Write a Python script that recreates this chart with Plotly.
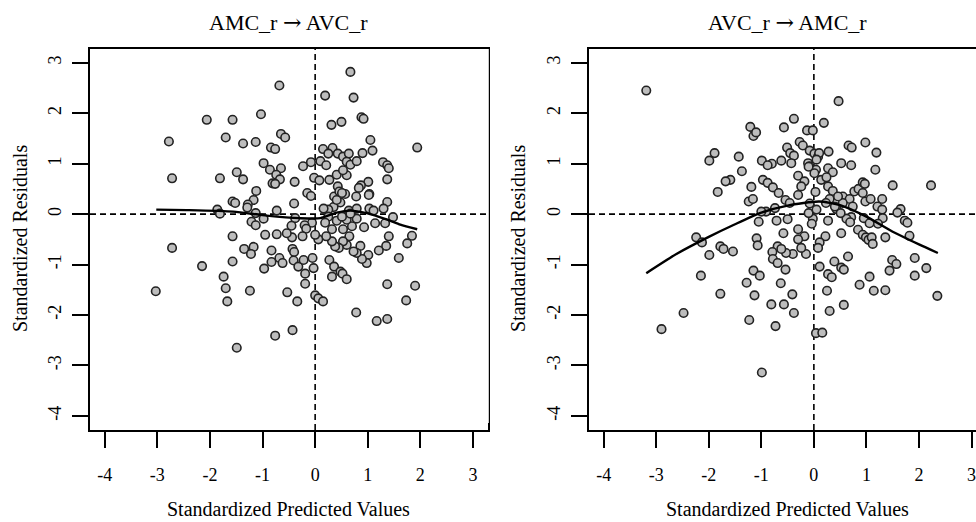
import plotly.graph_objects as go

# ---------------- data ----------------
# Left panel: AMC_r -> AVC_r
left_x = [0.67, -0.68, 0.19, 0.73, -2.06, -1.57, -1.03, 0.88, 0.92, 0.50, 0.31,
          -2.78, -1.70, -1.37, -1.13, -0.65, -0.57, -0.84, -0.76, 1.05, 1.94,
          0.15, 0.33, 0.25, 0.43, 0.53, 0.64, 0.90, 1.09, 0.60, 0.67, 0.79,
          1.29, 1.37, 1.40, 0.10, 0.21, -0.08, -0.23, -0.98, -0.86, -0.65, -0.74,
          -1.49, -2.72, -1.81, -1.37, -0.67, -0.81, -0.76, -0.39, -0.02, 0.08,
          0.27, 0.41, 0.60, 0.53, 1.37, 1.01, 0.87, 0.83, 0.43, -1.12, -0.15,
          -0.08, 0.36, 0.46, 0.57, 0.78, 1.03, -1.17, -1.28, -1.57, -1.52, -0.40,
          0.48, 1.37, 0.35, 0.25, 0.16, 0.64, 0.79, 1.03, 1.11, 1.30, -1.86,
          -1.81, -0.73, -1.13, 1.48, 1.33, 1.14, 0.79, 0.41, 0.25, 0.19, -0.06,
          -0.38, -0.98, -1.21, -1.13, -0.45, -0.20, -0.17, 0.53, 0.32, 0.70,
          0.93, 0.60, 1.84, 1.75, 1.40, 1.35, 1.21, 1.01, 0.98, 0.89, 0.86,
          0.79, 0.73, 0.65, 0.60, 0.53, 0.45, 0.38, 0.32, 0.21, 0.06, 0.00,
          -0.24, -0.44, -0.54, -0.73, -0.95, -1.57, -1.35, -1.17, -1.22, -0.83,
          -0.43, -0.40, -0.68, -0.62, -0.83, -1.57, -0.97, -0.41, -0.32, -0.22,
          -0.05, -0.03, -0.19, -0.19, 0.27, 0.36, 0.48, 0.52, 0.32, 0.60, -2.15,
          -1.74, -1.70, -1.67, -1.24, -3.03, -0.53, -0.34, 0.00, 0.06, 0.15,
          0.78, 1.17, 1.37, 1.37, 1.90, 1.73, 1.59, -0.43, -0.76, -1.49, -2.72,
          0.41, 0.67, 0.51, 0.51, -1.29, 1.02]
left_y = [2.82, 2.55, 2.35, 2.31, 1.87, 1.87, 1.98, 1.92, 1.89, 1.83, 1.77,
          1.44, 1.52, 1.40, 1.43, 1.59, 1.52, 1.32, 1.29, 1.47, 1.32,
          1.29, 1.31, 1.20, 1.20, 1.14, 1.20, 1.21, 1.26, 1.04, 0.98, 1.05,
          1.03, 0.97, 0.91, 1.05, 0.97, 1.03, 0.95, 1.01, 0.88, 0.91, 0.78,
          0.83, 0.71, 0.71, 0.69, 0.69, 0.61, 0.60, 0.64, 0.72, 0.67,
          0.68, 0.78, 0.77, 0.87, 0.69, 0.64, 0.57, 0.52, 0.55, 0.46, 0.42,
          0.36, 0.35, 0.45, 0.40, 0.35, 0.40, 0.28, 0.19, 0.25, 0.22, 0.21,
          0.23, 0.24, 0.14, 0.09, 0.11, 0.07, 0.11, 0.11, 0.07, 0.11, 0.09,
          0.01, 0.07, 0.02, -0.06, -0.18, -0.18, -0.09, -0.13, -0.05, -0.17, -0.17,
          -0.08, -0.09, -0.15, -0.22, -0.23, -0.22, -0.29, -0.30, -0.30, -0.24,
          -0.26, -0.11, -0.43, -0.58, -0.44, -0.63, -0.72, -0.81, -0.97, -0.89, -0.63,
          -0.77, -0.74, -0.44, -0.61, -0.54, -0.67, -0.64, -0.54, -0.44, -0.50, -0.41,
          -0.44, -0.46, -0.38, -0.40, -0.41, -0.44, -0.69, -0.65, -0.79, -0.72,
          -0.69, -0.75, -0.87, -0.97, -0.95, -0.94, -1.08, -0.92, -1.04, -0.91,
          -0.87, -1.07, -1.18, -1.38, -0.91, -1.04, -1.14, -1.18, -1.24, -1.29, -1.03,
          -1.24, -1.47, -1.73, -1.52, -1.53, -1.55, -1.73, -1.61, -1.67, -1.73,
          -1.95, -2.12, -2.08, -1.39, -1.42, -1.71, -0.87, -2.30, -2.41, -2.65, -0.67,
          0.28, 0.01, -0.05, 0.42, 0.13, 0.38]

left_fit_x = [-3.02, -2.44, -1.56, -0.92, -0.29, 0.10, 0.41, 0.67, 0.98, 1.37, 1.62, 1.94]
left_fit_y = [0.09, 0.08, 0.05, -0.03, -0.08, -0.08, 0.03, 0.07, 0.02, -0.11, -0.21, -0.30]

# Right panel: AVC_r -> AMC_r
right_x = [-3.19, 0.47, -0.38, 0.19, -1.21, -1.15, -1.10, -0.57, -0.13, -0.02,
           -0.27, -0.21, 0.98, 0.66, 0.72, -1.89, -1.99, -1.43, -1.37, -0.51,
           -0.45, -0.38, -0.62, -0.43, -0.99, -0.80, -0.88, -0.08, 0.01, 0.08,
           0.10, -0.11, -0.08, 0.04, 0.01, 0.28, 0.27, 0.36, 0.52, 0.71,
           1.19, 1.17, 0.14, -0.30, -0.18, -0.24, -0.30, -1.59, -1.68, -1.83,
           -1.19, -0.97, -0.88, -0.78, -0.67, -1.24, -1.16, -0.54, -0.46, 0.03,
           -0.08, 0.27, 0.36, 0.55, 0.68, 0.30, 0.23, 0.43, 0.55, 0.74,
           0.77, 0.85, 0.93, 0.97, 0.93, 0.98, 1.08, 1.50, 2.23, 1.30,
           1.21, 1.30, 1.65, 1.59, 1.31, 1.73, 1.78, 1.82, 1.36, 0.95,
           1.06, 1.22, 0.84, 0.93, 0.99, 1.04, 1.10, 1.12, 0.71, 0.62,
           0.69, 0.51, 0.52, 0.27, 0.22, 0.11, 0.08, -0.02, -0.04, -0.10,
           -0.18, -0.15, -0.24, -0.30, -0.30, -0.40, -0.53, -0.50, -0.58, -0.71,
           -0.74, -0.91, -1.00, -1.05, -1.09, -1.07, -0.69, -0.62, -0.79, -0.78,
           -0.69, -0.54, -0.63, -1.15, -1.03, -1.28, -1.13, -1.23, -0.81, -0.73,
           -0.57, -0.41, -0.38, -0.99, -2.24, -2.13, -1.99, -1.78, -1.72, -1.54,
           -2.15, -1.78, -2.48, -2.90, 0.04, 0.16, 0.11, 0.27, 0.34, 0.39,
           0.52, 0.57, 0.65, 0.25, 0.30, 0.57, 0.87, 1.06, 1.14, 1.36,
           1.44, 1.49, 1.57, 1.92, 1.92, 2.14, 2.35, 0.05, -0.10, 0.24,
           0.46, 0.40, 0.05]
right_y = [2.45, 2.24, 1.89, 1.81, 1.73, 1.55, 1.62, 1.72, 1.66, 1.66,
           1.43, 1.36, 1.42, 1.36, 1.32, 1.21, 1.06, 1.14, 0.85, 1.32,
           1.21, 1.16, 1.06, 1.01, 1.06, 1.00, 0.97, 1.26, 1.20, 1.14,
           1.21, 1.01, 0.95, 0.88, 0.81, 1.24, 0.91, 0.83, 1.01, 0.97,
           1.22, 0.88, 0.68, 0.76, 0.65, 0.55, 0.38, 0.68, 0.65, 0.44,
           0.54, 0.68, 0.62, 0.53, 0.42, 0.25, 0.30, 0.28, 0.22, 0.44,
           0.21, 0.55, 0.46, 0.35, 0.30, 0.30, 0.22, 0.10, 0.22, 0.15,
           0.45, 0.50, 0.63, 0.60, 0.42, 0.25, 0.30, 0.57, 0.57, 0.30,
           0.15, 0.09, 0.10, 0.03, -0.08, -0.13, -0.17, -0.43, -0.46, -0.08,
           -0.18, -0.19, -0.31, -0.41, -0.46, -0.51, -0.46, -0.59, -0.06, -0.09,
           -0.16, 0.02, -0.38, -0.13, -0.44, -0.56, -0.67, -0.09, -0.19, 0.02,
           -0.44, -0.79, -0.67, -0.50, -0.30, -0.79, -0.77, -0.10, -0.38, -0.13,
           0.12, 0.05, 0.05, -0.15, -0.48, -0.62, -0.64, -0.69, -0.75, -0.89,
           -0.97, -1.10, -1.37, -1.12, -1.22, -1.36, -1.61, -2.10, -1.79, -2.22,
           -1.79, -1.59, -1.96, -3.14, -0.46, -0.56, -0.81, -0.64, -0.69, -0.74,
           -1.22, -1.58, -1.96, -2.28, -2.36, -2.35, -1.04, -1.19, -1.25, -0.94,
           -1.06, -1.10, -0.84, -1.52, -1.92, -1.80, -1.40, -1.24, -1.52, -1.51,
           -1.12, -0.91, -0.99, -0.87, -1.22, -1.07, -1.62, 1.08, 0.94, 0.73,
           0.35, 0.15, 0.09]

right_fit_x = [-3.19, -2.6, -2.0, -1.5, -1.0, -0.5, 0.1, 0.5, 1.0, 1.5, 2.0, 2.36]
right_fit_y = [-1.17, -0.78, -0.45, -0.20, 0.03, 0.17, 0.25, 0.18, -0.05, -0.35, -0.60, -0.77]

ARROW = '<span style="font-family:DejaVu Serif">\u2192</span>'
titles = ["AMC_r " + ARROW + " AVC_r", "AVC_r " + ARROW + " AMC_r"]
x_title = "Standardized Predicted Values"
y_title = "Standardized Residuals"
tick_vals = [-4, -3, -2, -1, 0, 1, 2, 3]
tick_text = ["-4", "-3", "-2", "-1", "0", "1", "2", "3"]

# ---------------- figure ----------------
W, H = 976, 522
FONT = "Liberation Serif, Times New Roman, serif"

fig = go.Figure()

marker = dict(size=8.5, color="#bdbdbd", line=dict(color="#222222", width=1.6))
fit_line = dict(color="black", width=2.4, shape="spline", smoothing=0.6)

fig.add_trace(go.Scatter(x=left_x, y=left_y, mode="markers", marker=marker,
                         xaxis="x", yaxis="y", showlegend=False))
fig.add_trace(go.Scatter(x=left_fit_x, y=left_fit_y, mode="lines", line=fit_line,
                         xaxis="x", yaxis="y", showlegend=False))
fig.add_trace(go.Scatter(x=right_x, y=right_y, mode="markers", marker=marker,
                         xaxis="x2", yaxis="y2", showlegend=False))
fig.add_trace(go.Scatter(x=right_fit_x, y=right_fit_y, mode="lines", line=fit_line,
                         xaxis="x2", yaxis="y2", showlegend=False))

# pixel geometry
L_left, L_right = 90.0, 487.7
R_left = 589.0
top_px, bot_px = 48.7, 430.0
unit = 52.5
R_zero = 814.0
xr_right_end = (W - R_zero) / unit

def px(xp):
    return xp / W

def py(yp):
    return 1 - yp / H

common_x = dict(tickvals=tick_vals, ticktext=tick_text, ticks="outside", ticklen=16,
                tickwidth=1.6, tickcolor="black", showgrid=False, zeroline=False,
                showline=True, linecolor="black", linewidth=1.6,
                tickfont=dict(family=FONT, size=18, color="black"),
                ticklabelstandoff=12)
common_y = dict(tickvals=tick_vals, ticktext=tick_text, ticks="outside", ticklen=16,
                tickwidth=1.6, tickcolor="black", showgrid=False, zeroline=False,
                showline=True, linecolor="black", linewidth=1.6, tickangle=-90,
                tickfont=dict(family=FONT, size=18, color="black"),
                ticklabelstandoff=4, range=[-4.28, 3.28])

fig.update_layout(
    width=W, height=H,
    margin=dict(l=0, r=0, t=0, b=0),
    paper_bgcolor="white", plot_bgcolor="white",
    xaxis=dict(domain=[px(L_left), px(L_right)], range=[-4.28, 3.28], anchor="y",
               mirror=True, **common_x),
    yaxis=dict(domain=[py(bot_px), py(top_px)], anchor="x", mirror=True, **common_y),
    xaxis2=dict(domain=[px(R_left), 1.0], range=[-4.28, xr_right_end], anchor="y2",
                mirror=True, **common_x),
    yaxis2=dict(domain=[py(bot_px), py(top_px)], anchor="x2", mirror=False, **common_y),
)

# reference dashed lines at 0
dash = dict(color="black", width=1.6, dash="6px,4px")
fig.add_shape(type="line", xref="x domain", yref="y", x0=0, x1=1, y0=0, y1=0, line=dash, layer="below")
fig.add_shape(type="line", xref="x", yref="y domain", x0=0, x1=0, y0=0, y1=1, line=dash, layer="below")
fig.add_shape(type="line", xref="x2 domain", yref="y2", x0=0, x1=1, y0=0, y1=0, line=dash, layer="below")
fig.add_shape(type="line", xref="x2", yref="y2 domain", x0=0, x1=0, y0=0, y1=1, line=dash, layer="below")

# faint separator line between panels
fig.add_shape(type="line", xref="paper", yref="paper", x0=px(488.5), x1=px(488.5),
              y0=py(49), y1=py(423), line=dict(color="#c8c8c8", width=1))

# titles and axis labels
centers = [(L_left + L_right) / 2, (R_left + R_zero + 3.28 * unit) / 2]
yl_x = [20, 518]
for i in range(2):
    fig.add_annotation(text=titles[i], x=px(centers[i]), y=py(22), xref="paper", yref="paper",
                       showarrow=False, xanchor="center", yanchor="middle",
                       font=dict(family=FONT, size=22, color="black"))
    fig.add_annotation(text=x_title, x=px(centers[i]), y=py(509), xref="paper", yref="paper",
                       showarrow=False, xanchor="center", yanchor="middle",
                       font=dict(family=FONT, size=20, color="black"))
    fig.add_annotation(text=y_title, x=px(yl_x[i]), y=py(239), xref="paper", yref="paper",
                       showarrow=False, xanchor="center", yanchor="middle", textangle=-90,
                       font=dict(family=FONT, size=20, color="black"))

fig.write_html("out.html", config={"displayModeBar": False},
               post_script="document.body.style.margin='0';document.body.style.padding='0';")
